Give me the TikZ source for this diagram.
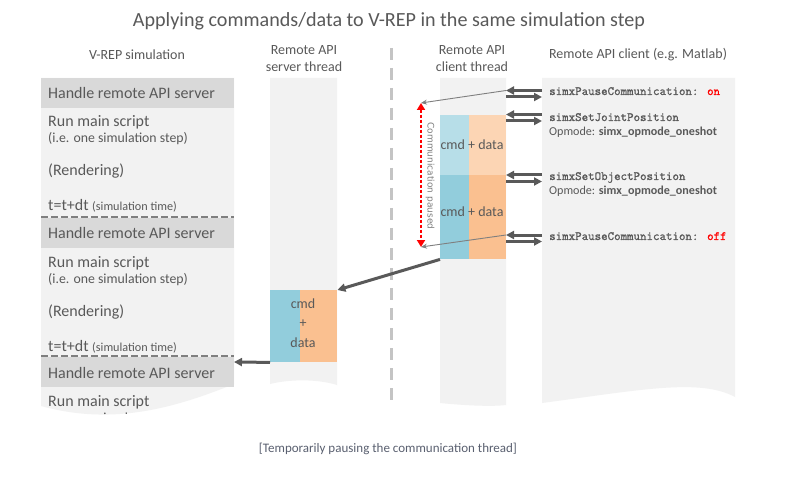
\documentclass[tikz,border=0pt]{standalone}
\usepackage{fontspec}
\setmainfont{Carlito}
\newfontfamily\monof{Latin Modern Mono}[FakeBold=1.2]
\newfontfamily\vfont{DejaVu Sans}
\usetikzlibrary{arrows.meta}
\definecolor{txt}{HTML}{595959}
\definecolor{colbg}{HTML}{F2F2F2}
\definecolor{band}{HTML}{D9D9D9}
\definecolor{blueA}{HTML}{92CDDC}
\definecolor{orangeA}{HTML}{FAC090}
\definecolor{blueB}{HTML}{B7DEE8}
\definecolor{orangeB}{HTML}{FCD5B4}
\definecolor{arr}{HTML}{595959}
\definecolor{thin}{HTML}{7F7F7F}
\definecolor{vdash}{HTML}{C4C4C4}
\definecolor{redc}{HTML}{FF0000}
\definecolor{capc}{HTML}{5A6070}
\tikzset{
  rowtxt/.style={inner sep=0pt, text=txt, anchor=base west, font=\fontsize{16}{19}\selectfont},
  subtxt/.style={inner sep=0pt, text=txt, anchor=base west, font=\fontsize{13.8}{16}\selectfont},
  headtxt/.style={inner sep=0pt, text=txt, anchor=base, font=\fontsize{14}{16}\selectfont},
  codetxt/.style={inner sep=0pt, text=txt, anchor=base west, font=\fontsize{12.6}{14}\monof},
  optxt/.style={inner sep=0pt, text=txt, anchor=base west, font=\fontsize{12.1}{15}\selectfont},
  blocktxt/.style={inner sep=0pt, text=txt, anchor=base, font=\fontsize{14}{17}\selectfont},
  fatarrow/.style={draw=arr, line width=3pt, -{Triangle[length=8pt,width=8pt]}},
  thinarrow/.style={draw=thin, line width=0.9pt, -{Stealth[length=6pt,width=5pt]}},
  sepline/.style={draw=thin, line width=2.5pt, dash pattern=on 7pt off 3pt},
}
\begin{document}
\begin{tikzpicture}[x=1pt,y=-1pt]
\useasboundingbox[fill=white] (0,0) rectangle (786,478);

% title
\node[inner sep=0pt, text=txt, anchor=base, font=\fontsize{20.1}{23}\selectfont] (title) at (389,27) {Applying commands/data to V-REP in the same simulation step};

% headers
\node[headtxt] (h1) at (137,60) {V-REP simulation};
\node[headtxt] (h2a) at (304,54.5) {Remote API};
\node[headtxt] (h2b) at (304,71.5) {server thread};
\node[headtxt] (h3a) at (472,54.5) {Remote API};
\node[headtxt] (h3b) at (472,71.5) {client thread};
\node[headtxt] (h4) at (638,59) {Remote API client (e.g. Matlab)};

% column backgrounds
\fill[colbg] (41,78) -- (234,78) -- (234,384) .. controls (170,410) and (110,425) .. (41,406) -- cycle;
\fill[colbg] (270,78) -- (337,78) -- (337,385) .. controls (318,379) and (290,379) .. (270,384) -- cycle;
\fill[colbg] (440,78) -- (506,78) -- (506,405) .. controls (490,407) and (460,405) .. (440,403) -- cycle;
\fill[colbg] (542,78) -- (735,78) -- (735,397) .. controls (700,378) and (640,390) .. (542,403) -- cycle;

% vertical dashed separator
\draw[vdash, line width=3pt, dash pattern=on 12pt off 8pt] (391,48) -- (391,400);

% V-REP simulation column bands
\fill[band] (41,78) rectangle (234,108);
\fill[band] (41,218) rectangle (234,248);
\fill[band] (41,357) rectangle (234,387);
\draw[sepline] (41,217) -- (234,217);
\draw[sepline] (41,356) -- (234,356);

\node[rowtxt] (s1a) at (48,99) {Handle remote API server};
\node[rowtxt] (s1b) at (48,127) {Run main script};
\node[subtxt] (s1c) at (48,143) {(i.e. one simulation step)};
\node[rowtxt] (s1d) at (48,176) {(Rendering)};
\node[rowtxt] (s1e) at (48,211) {t=t+dt {\fontsize{12.2}{14}\selectfont(simulation time)}};

\node[rowtxt] (s2a) at (48,239) {Handle remote API server};
\node[rowtxt] (s2b) at (48,267) {Run main script};
\node[subtxt] (s2c) at (48,283) {(i.e. one simulation step)};
\node[rowtxt] (s2d) at (48,316) {(Rendering)};
\node[rowtxt] (s2e) at (48,351) {t=t+dt {\fontsize{12.2}{14}\selectfont(simulation time)}};

\node[rowtxt] (s3a) at (48,378) {Handle remote API server};
\begin{scope}
\clip (41,387) -- (234,387) -- (234,384) .. controls (170,410) and (110,425) .. (41,406) -- cycle;
\node[rowtxt] (s3b) at (48,406) {Run main script};
\node[subtxt] (s3c) at (48,422) {(i.e. one simulation step)};
\end{scope}

% server thread block
\node[fill=blueA, inner sep=0pt, minimum width=30pt, minimum height=72pt, anchor=north west] (svB) at (270,290) {};
\node[fill=orangeA, inner sep=0pt, minimum width=37pt, minimum height=72pt, anchor=north west] (svO) at (300,290) {};
\node[blocktxt] (sv1) at (303,308) {cmd};
\node[blocktxt] (sv2) at (303,327) {+};
\node[blocktxt] (sv3) at (303,347) {data};

% client thread blocks
\node[fill=blueB, inner sep=0pt, minimum width=29pt, minimum height=60pt, anchor=north west] (c1B) at (440,115) {};
\node[fill=orangeB, inner sep=0pt, minimum width=37pt, minimum height=60pt, anchor=north west] (c1O) at (469,115) {};
\node[fill=blueA, inner sep=0pt, minimum width=29pt, minimum height=84pt, anchor=north west] (c2B) at (440,175) {};
\node[fill=orangeA, inner sep=0pt, minimum width=37pt, minimum height=84pt, anchor=north west] (c2O) at (469,175) {};
\node[blocktxt] (c1t) at (472,150) {cmd + data};
\node[blocktxt] (c2t) at (472,217) {cmd + data};

% client texts
\node[codetxt] (k1) at (549,95) {simxPauseCommunication: \textcolor{redc}{on}};
\node[codetxt] (k2) at (549,121) {simxSetJointPosition};
\node[optxt] (k2o) at (549,136) {Opmode: \textbf{simx\_opmode\_oneshot}};
\node[codetxt] (k3) at (549,180) {simxSetObjectPosition};
\node[optxt] (k3o) at (549,195) {Opmode: \textbf{simx\_opmode\_oneshot}};
\node[codetxt] (k4) at (549,240) {simxPauseCommunication: \textcolor{redc}{off}};

% arrow end coordinates
\coordinate (a1r) at (542,90.5);  \coordinate (a1l) at (506,90.5);
\coordinate (b1l) at (506,97);    \coordinate (b1r) at (542,97);
\coordinate (a2r) at (542,114.5); \coordinate (a2l) at (506,114.5);
\coordinate (b2l) at (506,121);   \coordinate (b2r) at (542,121);
\coordinate (a3r) at (542,175);   \coordinate (a3l) at (506,175);
\coordinate (b3l) at (506,181.5); \coordinate (b3r) at (542,181.5);
\coordinate (a4r) at (542,235);   \coordinate (a4l) at (506,235);
\coordinate (b4l) at (506,241.5); \coordinate (b4r) at (542,241.5);

\draw[fatarrow] (a1r) -- (a1l);
\draw[fatarrow] (b1l) -- (b1r);
\draw[fatarrow] (a2r) -- (a2l);
\draw[fatarrow] (b2l) -- (b2r);
\draw[fatarrow] (a3r) -- (a3l);
\draw[fatarrow] (b3l) -- (b3r);
\draw[fatarrow] (a4r) -- (a4l);
\draw[fatarrow] (b4l) -- (b4r);

% communication paused
\coordinate (rtop) at (421,103);
\coordinate (rbot) at (421,247);
\draw[thinarrow] (a1l) -- (rtop);
\draw[thinarrow] (a4l) -- (rbot);
\draw[redc, line width=2.6pt, dash pattern=on 3pt off 2pt, {Triangle[length=7pt,width=8pt]}-{Triangle[length=7pt,width=8pt]}] (rtop) -- (rbot);
\node[inner sep=0pt, text=thin, rotate=-90, font=\vfont\fontsize{9}{10}\selectfont] (cp) at (430,176) {Communication paused};

% data transfer arrows
\draw[fatarrow] (c2B.south west) -- (svO.north east);
\coordinate (simin) at (234,362);
\draw[fatarrow] (svB.south west) -- (simin);

% caption
\node[inner sep=0pt, text=capc, anchor=base, font=\fontsize{13}{15}\selectfont] (cap) at (388,452) {[Temporarily pausing the communication thread]};
\end{tikzpicture}
\end{document}
